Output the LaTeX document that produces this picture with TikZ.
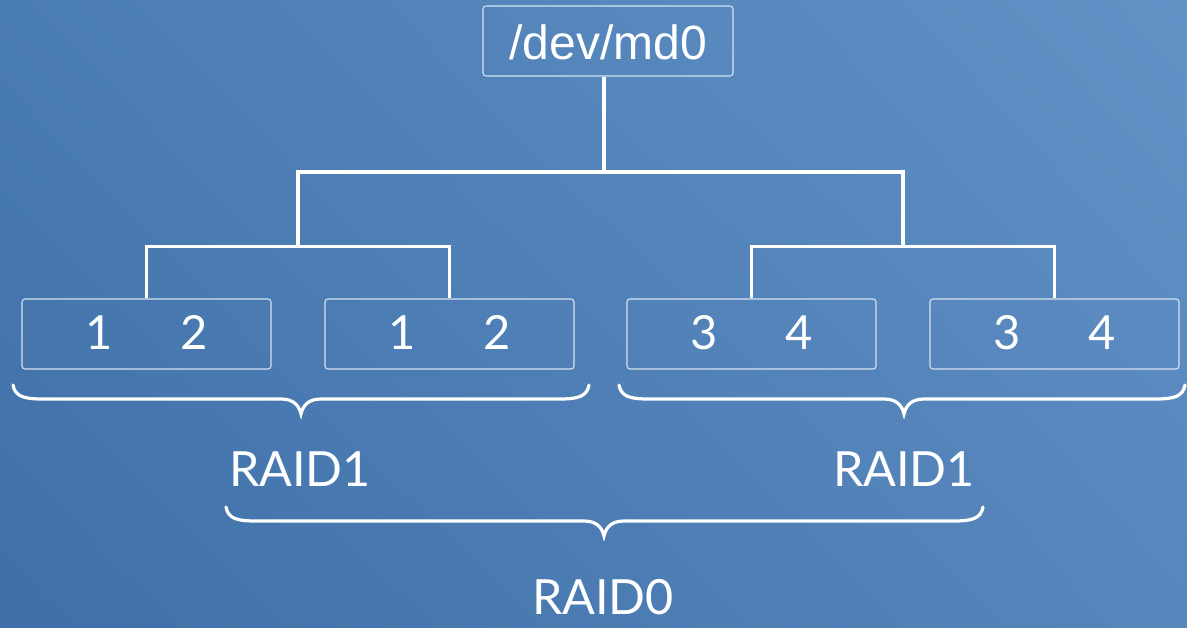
\documentclass[tikz,border=0pt]{standalone}
\usepackage{fontspec}
\setmainfont{Lato}
\newfontfamily\devfont{Liberation Sans}
\usetikzlibrary{calc,shadings}

\definecolor{bgTL}{RGB}{74,124,180}
\definecolor{bgTR}{RGB}{97,145,197}
\definecolor{bgBL}{RGB}{62,111,166}
\definecolor{bgBR}{RGB}{86,134,188}
\definecolor{frame}{RGB}{214,226,240}

% curly brace: left end x, right end x, tip x, top y of the ends
\newcommand\raidbrace[4]{%
  \draw[brace] (#1,#4)
    .. controls ({#1+2},{#4+12}) and ({#1+12},{#4+14}) .. ({#1+30},{#4+14})
    -- ({#3-20},{#4+14})
    .. controls ({#3-8},{#4+14}) and ({#3-2},{#4+20}) .. (#3,{#4+29})
    .. controls ({#3+2},{#4+20}) and ({#3+8},{#4+14}) .. ({#3+20},{#4+14})
    -- ({#2-30},{#4+14})
    .. controls ({#2-12},{#4+14}) and ({#2-2},{#4+12}) .. (#2,#4);}

\begin{document}
\begin{tikzpicture}[x=1pt,y=-1pt,
  diskbox/.style={draw=frame, line width=1.1pt, rounded corners=3pt,
    minimum width=249pt, minimum height=70pt, inner sep=0pt},
  digit/.style={text=white, font=\fontsize{47}{47}\selectfont, anchor=base, inner sep=0pt},
  label/.style={text=white, font=\fontsize{48.5}{48.5}\selectfont, anchor=base, inner sep=0pt},
  wire/.style={draw=white, line width=3.5pt},
  brace/.style={draw=white, line width=3.2pt, line cap=round}]

\shade[upper left=bgTL, upper right=bgTR, lower left=bgBL, lower right=bgBR]
  (0,0) rectangle (1187,627);
\useasboundingbox (0,0) rectangle (1187,627);

% array device
\node[draw=frame, line width=1.1pt, rounded corners=3pt,
  minimum width=250pt, minimum height=70pt, inner sep=0pt] (md0) at (608,41) {};
\node[text=white, font=\devfont\fontsize{48}{48}\selectfont, anchor=base, inner sep=0pt]
  (md0name) at (608,59) {/dev/md0};

% member disks
\node[diskbox] (a) at (146.5,334) {};
\node[diskbox] (b) at (449.5,334) {};
\node[diskbox] (c) at (751.5,334) {};
\node[diskbox] (d) at (1054.5,334) {};

\node[digit] (a1) at (99,349) {1};
\node[digit] (a2) at (194,349) {2};
\node[digit] (b1) at (402,349) {1};
\node[digit] (b2) at (497,349) {2};
\node[digit] (c3) at (704,349) {3};
\node[digit] (c4) at (799,349) {4};
\node[digit] (d3) at (1007,349) {3};
\node[digit] (d4) at (1102,349) {4};

% tree
\coordinate (jl) at ($(a.north)!0.5!(b.north)+(0,-52)$);
\coordinate (jr) at ($(c.north)!0.5!(d.north)+(0,-52)$);
\coordinate (jt) at (604,172);
\draw[wire] (md0.south -| jt) -- (jt);
\draw[wire] (jl) |- (jt) -| (jr);
\draw[wire] (a.north) |- (jl) -| (b.north);
\draw[wire] (c.north) |- (jr) -| (d.north);

% braces and labels
\raidbrace{13}{589}{301}{385}
\raidbrace{619}{1185}{904}{385}
\raidbrace{226}{983}{604}{507}

\node[label] (r1a) at (300,486) {RAID1};
\node[label] (r1b) at (904,486) {RAID1};
\node[label] (r0) at (603,614) {RAID0};
\end{tikzpicture}
\end{document}
